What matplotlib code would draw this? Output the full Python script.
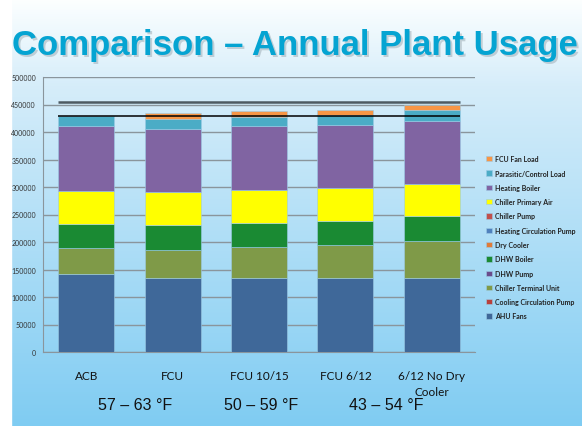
import matplotlib.pyplot as plt
from matplotlib import transforms
import numpy as np

categories = ["ACB", "FCU", "FCU 10/15", "FCU 6/12", "6/12 No Dry\nCooler"]

# stacked bottom-up, same order as the chart
series_names = [
    "AHU Fans", "Cooling Circulation Pump", "Chiller Terminal Unit", "DHW Pump",
    "DHW Boiler", "Dry Cooler", "Heating Circulation Pump", "Chiller Pump",
    "Chiller Primary Air", "Heating Boiler", "Parasitic/Control Load", "FCU Fan Load",
]
ahu_fans = [141000, 133700, 133700, 133700, 133700]
cooling_circ_pump = [0, 0, 0, 0, 0]
chiller_terminal_unit = [47300, 52200, 57000, 60700, 68600]
dhw_pump = [0, 0, 0, 0, 0]
dhw_boiler = [44400, 45000, 44400, 44300, 44300]
dry_cooler = [0, 0, 0, 0, 0]
heating_circ_pump = [0, 0, 0, 0, 0]
chiller_pump = [0, 0, 0, 0, 0]
chiller_primary_air = [60700, 59500, 59500, 59500, 59500]
heating_boiler = [116700, 114200, 115500, 114800, 114800]
parasitic_control = [18200, 18200, 17000, 18200, 18200]
fcu_fan_load = [0, 12000, 10300, 9100, 9100]

series_values = [
    ahu_fans, cooling_circ_pump, chiller_terminal_unit, dhw_pump, dhw_boiler,
    dry_cooler, heating_circ_pump, chiller_pump, chiller_primary_air,
    heating_boiler, parasitic_control, fcu_fan_load,
]
series_colors = [
    "#3F6899", "#B8403C", "#7F9A48", "#6A4C8C", "#1A8A33", "#E07B39",
    "#4F81BD", "#C0504D", "#FFFF00", "#8064A2", "#4BACC6", "#F79646",
]

ref_lines = [455000, 430000]
temp_labels = ["57 \u2013 63 \u00b0F", "50 \u2013 59 \u00b0F", "43 \u2013 54 \u00b0F"]
temp_x = [0.57, 2.02, 3.47]
yticks = np.arange(0, 500001, 50000)

W, H = 582, 427
fig = plt.figure(figsize=(W / 100, H / 100), dpi=100)

# slide background: white top fading to sky blue, white strip on the left
bg = fig.add_axes([0, 0, 1, 1])
grad = np.linspace(0, 1, 256)[:, None]
top = np.array([0.99, 1.0, 1.0])
mid = np.array([0.84, 0.93, 0.98])
bot = np.array([0.50, 0.80, 0.95])
cols = np.where(grad < 0.2, top + (mid - top) * (grad / 0.2),
                mid + (bot - mid) * ((grad - 0.2) / 0.8))
img = np.repeat(cols[:, None, :], 2, axis=1).reshape(256, 2, 3)
bg.imshow(img, aspect="auto", extent=[0, 1, 0, 1], origin="upper")
bg.axvspan(0, 11 / W, color="white")
bg.set_xlim(0, 1)
bg.set_ylim(0, 1)
bg.axis("off")

title = "Comparison \u2013 Annual Plant Usage"
shadow = fig.transFigure + transforms.ScaledTranslation(1.5 / 100, -1.5 / 100,
                                                         fig.dpi_scale_trans)
fig.text(12 / W, 1 - 55 / H, title, fontsize=25, fontweight="bold",
         family="Liberation Sans", color="#9aa9b2", va="baseline", ha="left",
         alpha=0.5, transform=shadow)
fig.text(12 / W, 1 - 55 / H, title, fontsize=25, fontweight="bold",
         family="Liberation Sans", color="#05A4D2", va="baseline", ha="left")

ax = fig.add_axes([43 / W, 1 - 353 / H, (475 - 43) / W, (353 - 78) / H])
ax.patch.set_alpha(0)
x = np.arange(len(categories))
bottom = np.zeros(len(categories))
handles = []
for name, vals, c in zip(series_names, series_values, series_colors):
    v = np.array(vals, dtype=float)
    b = ax.bar(x, v, 0.65, bottom=bottom, color=c, edgecolor="#9ccbe6",
               linewidth=0.4, label=name, zorder=3)
    handles.append(b)
    bottom += v

ax.set_xlim(-0.5, len(categories) - 0.5)
ax.set_ylim(0, 500000)
ax.set_yticks(yticks)
ax.set_yticklabels([str(t) for t in yticks], fontsize=5, family="Lato",
                   color="#333333")
ax.set_xticks(x)
ax.set_xticklabels(categories, fontsize=8.5, family="Lato", color="#111111",
                   linespacing=1.6)
ax.tick_params(axis="both", length=0, pad=5)
ax.tick_params(axis="x", pad=13)
ax.grid(axis="y", color="#8a959c", linewidth=1, zorder=0)
for s in ["top", "right"]:
    ax.spines[s].set_visible(False)
ax.spines["left"].set_color("#8a959c")
ax.spines["bottom"].set_color("#8a959c")

# reference lines across the bars
ax.hlines(ref_lines[0], -0.325, len(categories) - 1 + 0.325, color="#4d5a62",
          linewidth=1.8, zorder=5)
ax.hlines(ref_lines[1], -0.325, len(categories) - 1 + 0.325, color="black",
          linewidth=1.1, zorder=5)

leg = fig.legend(handles[::-1], series_names[::-1], loc="upper left",
                 bbox_to_anchor=(480 / W, 1 - 150 / H), frameon=False,
                 prop={"family": "Lato", "size": 5, "weight": "bold"},
                 handlelength=0.8, handleheight=0.8, handletextpad=0.5,
                 labelspacing=1.05, labelcolor="#222222")

for t, tx in zip(temp_labels, temp_x):
    ax.text(tx, 1 - (406 - 78) / (353 - 78), t, transform=ax.get_xaxis_transform(),
            ha="center", va="center", fontsize=11.5, family="Liberation Sans",
            color="#111111")

fig.savefig("out.png", dpi=100)
